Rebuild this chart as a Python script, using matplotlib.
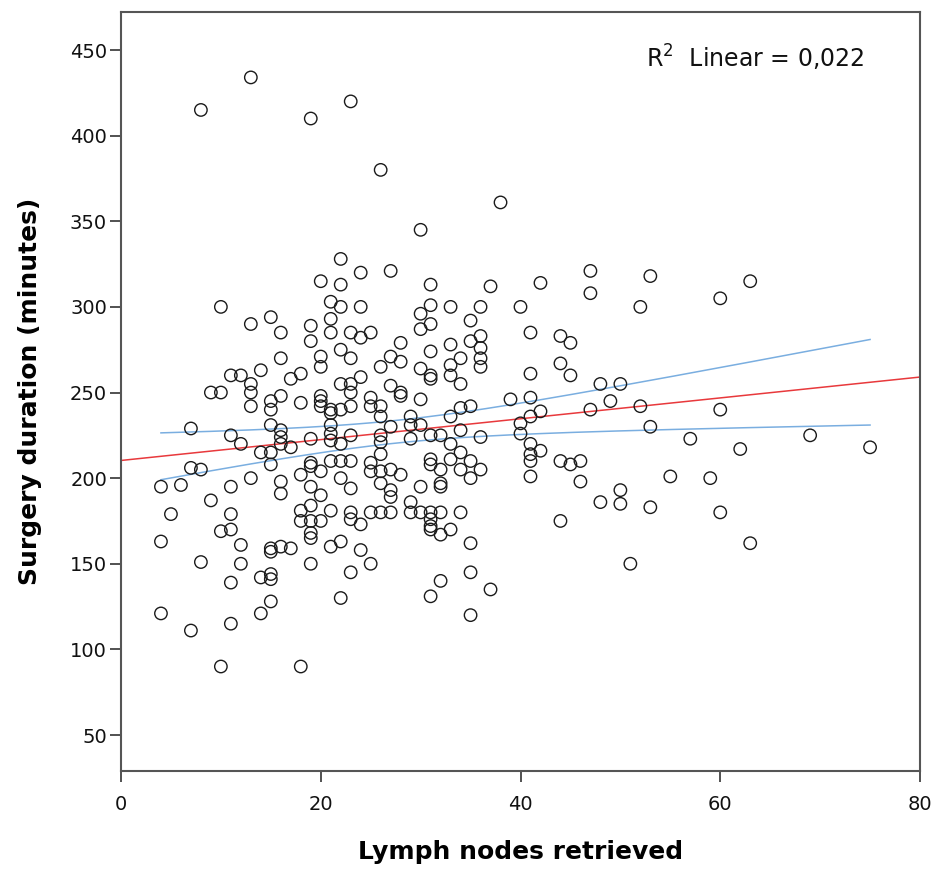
import numpy as np
import matplotlib
matplotlib.use("Agg")
import matplotlib.pyplot as plt

# Lymph nodes retrieved (x) and surgery duration in minutes (y)
pts = [
    # x ~ 4-14 upper
    (10,300),(13,290),(11,260),(12,260),(14,263),(13,255),(9,250),(10,250),(13,250),(13,242),
    (7,229),(11,225),(12,220),(14,215),
    # x ~ 15-27 upper
    (24,320),(27,321),(20,315),(22,313),(21,303),(22,300),(24,300),(15,294),(21,293),(19,289),
    (16,285),(21,285),(23,285),(24,282),(25,285),(19,280),(22,275),(23,270),(20,271),(20,265),
    (16,270),(26,265),(27,271),(18,261),(17,258),(22,255),(23,255),(23,250),(24,259),(27,254),
    (16,248),(15,245),(15,240),(18,244),(20,248),(20,245),(20,242),(21,240),(21,238),(22,240),
    (23,242),(25,247),(25,242),(26,242),(26,236),(15,231),(16,228),(16,224),(21,231),(21,226),
    (21,222),(22,220),(23,225),(19,223),(26,225),(26,221),(27,230),(17,218),(16,220),(15,215),
    # x ~ 28-42 upper
    (31,313),(37,312),(42,314),(31,301),(33,300),(36,300),(40,300),(30,296),(31,290),(30,287),
    (35,292),(41,285),(36,283),(35,280),(36,276),(36,270),(36,265),(34,270),(33,278),(31,274),
    (28,279),(28,268),(30,264),(31,260),(31,258),(33,266),(33,260),(34,255),(41,261),(28,250),
    (28,248),(30,246),(39,246),(41,247),(34,241),(35,242),(33,236),(29,236),(29,231),(30,231),
    (34,228),(40,232),(41,236),(40,226),(29,223),(31,225),(32,225),(33,220),(36,224),(41,220),
    # x ~ 4-14 lower
    (7,206),(8,205),(4,195),(6,196),(11,195),(13,200),(9,187),(5,179),(11,179),(10,169),
    (11,170),(4,163),(12,161),(8,151),(12,150),(11,139),(14,142),(4,121),(7,111),(11,115),
    (14,121),(10,90),(18,90),
    # x ~ 15-27 lower
    (15,208),(16,198),(16,191),(18,202),(19,209),(19,207),(20,204),(21,210),(22,210),(23,210),
    (22,200),(23,194),(19,195),(20,190),(19,184),(18,181),(18,175),(19,175),(20,175),(21,181),
    (19,168),(19,165),(23,180),(23,176),(24,173),(25,180),(26,180),(27,180),(25,209),(25,204),
    (26,214),(26,204),(27,205),(26,197),(27,193),(27,189),(15,159),(16,160),(17,159),(15,157),
    (19,150),(21,160),(22,163),(24,158),(25,150),(23,145),(15,144),(15,141),(15,128),(22,130),
    # x ~ 28-41 lower
    (31,211),(31,208),(33,211),(34,215),(35,210),(34,205),(35,200),(36,205),(32,205),(28,202),
    (30,195),(32,197),(32,195),(29,186),(29,180),(30,180),(31,180),(32,180),(34,180),(31,176),
    (31,172),(31,170),(32,167),(33,170),(35,162),(35,145),(32,140),(37,135),(31,131),(35,120),
    (41,214),(41,210),(41,201),
    # x >= 42
    (47,321),(53,318),(63,315),(47,308),(60,305),(52,300),(44,283),(45,279),(44,267),(45,260),
    (48,255),(50,255),(49,245),(47,240),(52,242),(60,240),(42,239),(53,230),(57,223),(69,225),
    (62,217),(75,218),(42,216),(44,210),(45,208),(46,210),(46,198),(55,201),(59,200),(50,193),
    (48,186),(50,185),(53,183),(60,180),(44,175),(63,162),(51,150),
    # outliers
    (8,415),(13,434),(19,410),(23,420),(26,380),(38,361),(30,345),(22,328),
]
lymph_nodes = np.array([p[0] for p in pts], dtype=float)
duration = np.array([p[1] for p in pts], dtype=float)

x_ticks = [0, 20, 40, 60, 80]
y_ticks = [50, 100, 150, 200, 250, 300, 350, 400, 450]
r2_label = "R$^2$  Linear = 0,022"

fig = plt.figure(figsize=(9.4, 8.72), dpi=100)
ax = fig.add_axes([121/940, 1-771/872, (920-121)/940, (771-12)/872])

ax.scatter(lymph_nodes, duration, s=80, facecolors='none', edgecolors='#1a1a1a',
           linewidths=1.0, zorder=3)

# linear fit + 95% CI of the mean
b, a = np.polyfit(lymph_nodes, duration, 1)
xl = np.linspace(0, 80, 200)
ax.plot(xl, a + b*xl, color='#e8393c', lw=1.1, zorder=2)
n = len(lymph_nodes)
resid = duration - (a + b*lymph_nodes)
s = np.sqrt(np.sum(resid**2)/(n-2))
xm = lymph_nodes.mean()
sxx = np.sum((lymph_nodes-xm)**2)
xc = np.linspace(lymph_nodes.min(), lymph_nodes.max(), 200)
half = 1.968*s*np.sqrt(1/n + (xc-xm)**2/sxx)
ax.plot(xc, a + b*xc + half, color='#7aaee0', lw=1.1, zorder=2)
ax.plot(xc, a + b*xc - half, color='#7aaee0', lw=1.1, zorder=2)

ax.set_xlim(0, 80)
ax.set_ylim(28.98, 472.2)
ax.set_xticks(x_ticks)
ax.set_yticks(y_ticks)
ax.tick_params(labelsize=14, length=8, width=1.2, color='#333333', labelcolor='#111111')
ax.tick_params(axis='x', pad=9)
ax.tick_params(axis='y', pad=2)
for sp in ax.spines.values():
    sp.set_color('#555555')
    sp.set_linewidth(1.5)
ax.set_xlabel("Lymph nodes retrieved", fontsize=18, fontweight='bold')
ax.set_ylabel("Surgery duration (minutes)", fontsize=18, fontweight='bold')
ax.xaxis.set_label_coords(0.5, -0.091)
ax.yaxis.set_label_coords(-0.099, 0.5)
ax.text(0.794, 0.94, r2_label, transform=ax.transAxes, fontsize=17, ha='center', va='center',
        color='#111111')

fig.savefig("out.png", dpi=100)
